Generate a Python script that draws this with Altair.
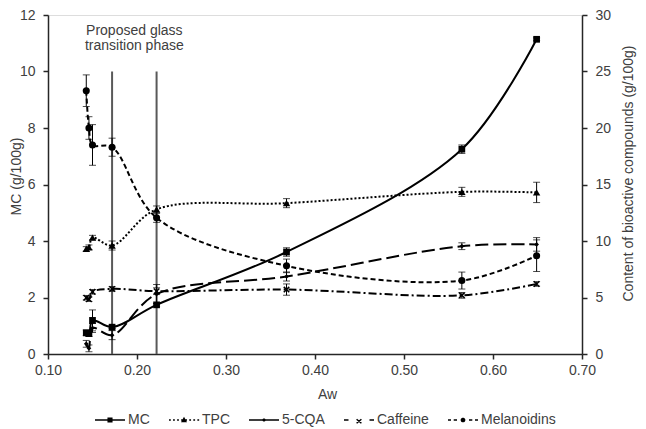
import altair as alt
import pandas as pd
import numpy as np

# ---------------- data ----------------
aw = [0.143, 0.146, 0.150, 0.172, 0.222, 0.368, 0.565, 0.649]
series_names = ["MC", "TPC", "5-CQA", "Caffeine", "Melanoidins"]

mc = [0.75, 0.72, 1.19, 0.95, 1.74, 3.61, 7.25, 11.14]          # left axis
mc_err = [0.10, 0.10, 0.37, 0.05, 0.05, 0.15, 0.15, 0.05]
tpc = [9.3, 9.45, 10.3, 9.6, 12.8, 13.35, 14.35, 14.3]          # right axis
tpc_err = [0.2, 0.2, 0.2, 0.4, 0.3, 0.4, 0.4, 0.9]
cqa = [0.9, 0.5, 2.3, 1.67, 5.3, 6.86, 9.54, 9.7]
cqa_err = [0.3, 0.3, 0.4, 0.4, 0.85, 0.4, 0.3, 0.6]
caf = [4.98, 4.85, 5.5, 5.76, 5.56, 5.7, 5.19, 6.2]
caf_err = [0.2, 0.2, 0.2, 0.2, 0.3, 0.5, 0.25, 0.2]
mel = [23.3, 20.0, 18.5, 18.3, 12.05, 7.8, 6.5, 8.7]
mel_err = [1.4, 1.0, 1.8, 0.8, 0.4, 0.6, 0.75, 1.4]

glass_aw = [0.172, 0.222]
glass_top = 10
note_text = ["Proposed glass", "transition phase"]
note_aw = 0.197
note_y = 11.45

x_ticks = [0.1, 0.2, 0.3, 0.4, 0.5, 0.6, 0.7]
left_ticks = [0, 2, 4, 6, 8, 10, 12]
right_ticks = [0, 5, 10, 15, 20, 25, 30]

# ---------------- tables ----------------
rows = []
for name, vals, errs in zip(series_names, [mc, tpc, cqa, caf, mel],
                            [mc_err, tpc_err, cqa_err, caf_err, mel_err]):
    for a, v, e in zip(aw, vals, errs):
        rows.append({"series": name, "aw": a, "value": v, "lo": v - e, "hi": v + e})
df = pd.DataFrame(rows)
df_left = df[df.series == "MC"]
df_right = df[df.series != "MC"]

vl_df = pd.DataFrame({"aw": glass_aw, "value": [0] * len(glass_aw), "hi": [glass_top] * len(glass_aw)})
note_df = pd.DataFrame({"aw": [note_aw], "value": [note_y], "text": ["\n".join(note_text)]})

# ---------------- styling ----------------
FONT = "Liberation Sans"
TXT = "#404040"
AX = "#262626"

xscale = alt.Scale(domain=[0.1, 0.7], nice=False, zero=False, padding=0)
lscale = alt.Scale(domain=[0, 12], nice=False, padding=0)
rscale = alt.Scale(domain=[0, 30], nice=False, padding=0)

common_axis = dict(labelFont=FONT, labelFontSize=14, labelColor=TXT, titleFont=FONT,
                   titleFontSize=14, titleFontWeight="normal", titleColor=TXT,
                   domainColor=AX, domainWidth=1.5, tickColor=AX, tickWidth=1.5,
                   tickSize=5, grid=False, labelFlush=False, labelOverlap=False)

x_axis = alt.Axis(values=x_ticks, format=".2f", title="Aw", labelPadding=4,
                  titleX=279, titleY=40, titleBaseline="middle", **common_axis)
l_axis = alt.Axis(values=left_ticks, title="MC (g/100g)", labelPadding=8,
                  titleX=-32, titleY=161, titleAngle=270, titleAlign="center",
                  titleBaseline="middle", **common_axis)
r_axis = alt.Axis(values=right_ticks, orient="right",
                  title="Content of bioactive compounds (g/100g)", labelPadding=8,
                  titleX=46, titleY=158, titleAngle=270, titleAlign="center",
                  titleBaseline="middle", **common_axis)

X = alt.X("aw:Q", scale=xscale, axis=x_axis)


def YL(f="value"):
    return alt.Y(f + ":Q", scale=lscale, axis=l_axis)


def YR(f="value"):
    return alt.Y(f + ":Q", scale=rscale, axis=r_axis)


def cap(data, yfun, f):
    return alt.Chart(data).mark_tick(color="black", thickness=1, size=7,
                                     orient="horizontal").encode(x=X, y=yfun(f))


# ---------------- left (MC) group ----------------
vlines = alt.Chart(vl_df).mark_rule(color="#595959", strokeWidth=2).encode(
    x=X, y=YL(), y2="hi:Q")
note = alt.Chart(note_df).mark_text(font=FONT, fontSize=14, color=TXT, lineBreak="\n",
                                    lineHeight=15, baseline="middle", align="center").encode(
    x=X, y=YL(), text="text:N")
mc_err_rule = alt.Chart(df_left).mark_rule(color="black", strokeWidth=1).encode(
    x=X, y=YL("lo"), y2="hi:Q")
mc_line = alt.Chart(df_left).mark_line(color="black", strokeWidth=2, interpolate="catmull-rom").encode(
    x=X, y=YL())
mc_pts = alt.Chart(df_left).mark_point(shape="square", filled=True, color="black", size=45, opacity=1).encode(
    x=X, y=YL())

left = alt.layer(vlines, note, mc_err_rule, cap(df_left, YL, "lo"), cap(df_left, YL, "hi"), mc_line, mc_pts)

# ---------------- right group ----------------
r_names = series_names[1:]
dashes = [[2, 2], [13, 5], [8, 3, 2, 3], [5, 3]]

r_err_rule = alt.Chart(df_right).mark_rule(color="black", strokeWidth=1).encode(
    x=X, y=YR("lo"), y2="hi:Q")
r_lines = alt.Chart(df_right).mark_line(color="black", strokeWidth=2, interpolate="catmull-rom").encode(
    x=X, y=YR(),
    strokeDash=alt.StrokeDash("series:N", scale=alt.Scale(domain=r_names, range=dashes), legend=None))

X_PATH = "M-1,-1L1,1M-1,1L1,-1"
pt_tpc = alt.Chart(df_right).transform_filter(alt.datum.series == "TPC").mark_point(
    shape="triangle-up", filled=True, color="black", size=55, opacity=1).encode(x=X, y=YR())
pt_cqa = alt.Chart(df_right).transform_filter(alt.datum.series == "5-CQA").mark_point(
    shape="diamond", filled=True, color="black", size=22, opacity=1).encode(x=X, y=YR())
pt_caf = alt.Chart(df_right).transform_filter(alt.datum.series == "Caffeine").mark_point(
    shape=X_PATH, filled=False, color="black", size=30, strokeWidth=1.5, opacity=1).encode(x=X, y=YR())
pt_mel = alt.Chart(df_right).transform_filter(alt.datum.series == "Melanoidins").mark_point(
    shape="circle", filled=True, color="black", size=50, opacity=1).encode(x=X, y=YR())


# legend symbols: line style + marker as filled custom symbol paths (unit box -1..1)
def poly(pts):
    area = sum(pts[i][0] * pts[(i + 1) % len(pts)][1] - pts[(i + 1) % len(pts)][0] * pts[i][1]
               for i in range(len(pts)))
    if area < 0:
        pts = pts[::-1]
    return "M" + "L".join(f"{x:.3f},{y:.3f}" for x, y in pts) + "Z"


def seg(x1, y1, x2, y2, w=0.05):
    L = np.hypot(x2 - x1, y2 - y1)
    nx, ny = -(y2 - y1) / L * w, (x2 - x1) / L * w
    return poly([(x1 + nx, y1 + ny), (x2 + nx, y2 + ny), (x2 - nx, y2 - ny), (x1 - nx, y1 - ny)])


def hsegs(pattern):
    return "".join(seg(a, 0, b, 0) for a, b in pattern)


def circ(r, n=14):
    return poly([(r * np.cos(2 * np.pi * k / n), r * np.sin(2 * np.pi * k / n)) for k in range(n)])


dots = [(-1 + k * 0.27, -1 + k * 0.27 + 0.12) for k in range(8)]
legend_paths = [
    hsegs([(-1, 1)]) + poly([(-0.17, -0.17), (0.17, -0.17), (0.17, 0.17), (-0.17, 0.17)]),
    hsegs(dots) + poly([(0, -0.22), (0.2, 0.15), (-0.2, 0.15)]),
    hsegs([(-1, 1)]) + circ(0.11),
    hsegs([(-1, -0.7), (0.7, 1)]) + seg(-0.16, -0.05, 0.16, 0.22) + seg(-0.16, 0.22, 0.16, -0.05),
    hsegs([(-1, -0.8), (-0.62, -0.4), (0.4, 0.62), (0.8, 1)]) + circ(0.16),
]

legend_layer = alt.Chart(df).mark_point(filled=True, color="black", opacity=0).encode(
    x=X, y=YR(),
    shape=alt.Shape("series:N", scale=alt.Scale(domain=series_names, range=legend_paths),
                    legend=alt.Legend(orient="none", legendX=47, legendY=390, direction="horizontal",
                                      title=None, symbolSize=900, symbolStrokeWidth=0,
                                      symbolFillColor="black", symbolOpacity=1,
                                      labelFont=FONT, labelFontSize=14,
                                      labelColor=TXT, labelOffset=3, columnPadding=19,
                                      padding=0)))

right = alt.layer(r_err_rule, cap(df_right, YR, "lo"), cap(df_right, YR, "hi"), r_lines,
                  pt_tpc, pt_cqa, pt_caf, pt_mel, legend_layer)

chart = alt.layer(left, right).resolve_scale(y="independent").properties(
    width=534, height=339,
    autosize=alt.AutoSizeParams(type="none"),
    padding={"left": 40, "top": 7, "right": 56, "bottom": 75},
).configure_view(stroke=None).configure(font=FONT)

chart.save("out.html", embed_options={"renderer": "svg", "actions": False})
